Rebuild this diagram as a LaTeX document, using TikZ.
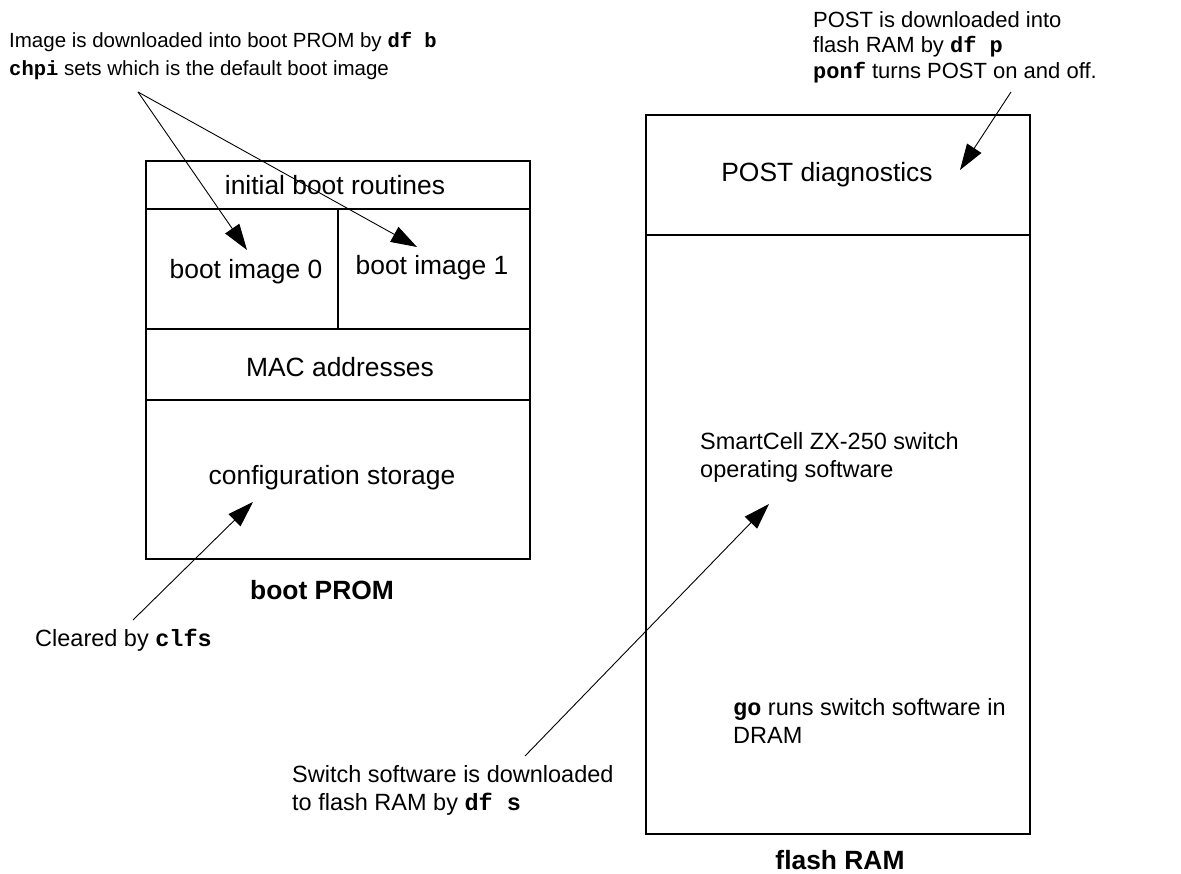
\documentclass[tikz,border=0pt]{standalone}
\usepackage{fontspec}
\setmainfont{Liberation Sans}
\setmonofont{Liberation Mono}
\usetikzlibrary{arrows.meta}
\newcommand{\cmd}[1]{\texttt{\bfseries #1}}
\begin{document}
\begin{tikzpicture}[x=1pt,y=-1pt,
  font=\fontsize{23.5}{28}\selectfont,
  boxline/.style={line width=2.4pt},
  callout/.style={line width=0.9pt,-{Triangle[length=26pt,width=17pt]}},
  lbl/.style={inner sep=0pt,anchor=center,font=\fontsize{26.4}{30}\selectfont},
  ann/.style={inner sep=0pt,anchor=north west,align=left},
  title/.style={inner sep=0pt,anchor=center,font=\fontsize{26.4}{30}\selectfont\bfseries}]
\useasboundingbox (0,0) rectangle (1181,874);
% ---------- boot PROM ----------
\coordinate (bp-nw) at (146,161);
\coordinate (bp-se) at (530,559);
\draw[boxline] (bp-nw) rectangle (bp-se);
\draw[boxline] (146,209) -- (530,209);
\draw[boxline] (146,329) -- (530,329);
\draw[boxline] (146,400) -- (530,400);
\draw[boxline] (338,209) -- (338,329);
\node[lbl] (ibr) at (335,185) {initial boot routines};
\node[lbl] (bi0) at (246,272) {boot image 0};
\node[lbl] (bi1) at (432,268) {boot image 1};
\node[lbl] (mac) at (340,367) {MAC addresses};
\node[lbl] (cfg) at (332,478) {configuration storage};
\node[title] (bptitle) at (322,590) {boot PROM};
% ---------- flash RAM ----------
\draw[boxline] (646,115) rectangle (1030,834);
\draw[boxline] (646,235) -- (1030,235);
\node[lbl] (post) at (827,175) {POST diagnostics};
\node[ann] (sw) at (700,432) {SmartCell ZX-250 switch\\operating software};
\node[ann] (go) at (733,698) {\cmd{go} runs switch software in\\DRAM};
\node[title] (frtitle) at (840,860) {flash RAM};
% ---------- annotations ----------
\node[ann,font=\fontsize{20.5}{28}\selectfont] (a1) at (9,32) {Image is downloaded into boot PROM by \cmd{df b}\\\cmd{chpi} sets which is the default boot image};
\coordinate (apex) at (138,92);
\coordinate (tip0) at (247,250);
\coordinate (tip1) at (417,247);
\draw[callout] (apex) -- (tip0);
\draw[callout] (apex) -- (tip1);
\node[ann,font=\fontsize{22}{25.5}\selectfont] (a2) at (813,11) {POST is downloaded into\\flash RAM by \cmd{df p}\\\cmd{ponf} turns POST on and off.};
\coordinate (ptail) at (1011,92);
\coordinate (ptip) at (960,170);
\draw[callout] (ptail) -- (ptip);
\node[ann] (a3) at (35,629) {Cleared by \cmd{clfs}};
\coordinate (ctail) at (133,620);
\coordinate (ctip) at (253,502);
\draw[callout] (ctail) -- (ctip);
\node[ann] (a4) at (292,765) {Switch software is downloaded\\to flash RAM by \cmd{df s}};
\coordinate (stail) at (525,756);
\coordinate (stip) at (769,504);
\draw[callout] (stail) -- (stip);
\end{tikzpicture}
\end{document}
